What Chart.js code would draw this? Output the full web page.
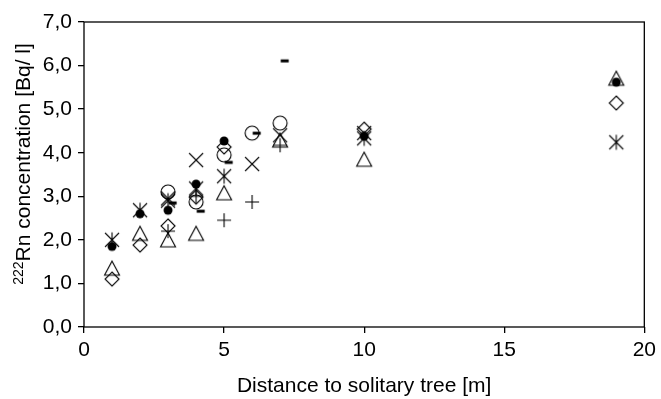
<!DOCTYPE html>
<html>
<head>
<meta charset="utf-8">
<script src="https://cdn.jsdelivr.net/npm/chart.js@4/dist/chart.umd.min.js"></script>
<style>
body { margin: 0; background: #fff; }
</style>
</head>
<body>
<canvas id="chart" width="661" height="399"></canvas>
<script>
// values, one pair of arrays per marker
var dotX = [1, 2, 3, 4, 5, 10, 19];
var dotY = [1.85, 2.6, 2.68, 3.28, 4.27, 4.38, 5.62];
var starX = [1, 2, 3, 4, 5, 10, 19];
var starY = [2.0, 2.68, 2.9, 3.18, 3.46, 4.33, 4.24];
var triX = [1, 2, 3, 4, 5, 7, 10, 19];
var triY = [1.35, 2.15, 2.0, 2.15, 3.08, 4.29, 3.85, 5.71];
var diaX = [1, 2, 3, 4, 5, 10, 19];
var diaY = [1.1, 1.88, 2.32, 2.98, 4.13, 4.54, 5.14];
var crossX = [3, 4, 6, 7, 10];
var crossY = [2.95, 3.83, 3.74, 4.4, 4.45];
var ringX = [3, 4, 5, 6, 7];
var ringY = [3.1, 2.87, 3.95, 4.45, 4.68];
var plusX = [3, 4, 5, 6, 7];
var plusY = [2.2, 3.0, 2.45, 2.87, 4.17];
var dashX = [3, 4, 5, 6, 7];
var dashY = [2.85, 2.66, 3.78, 4.45, 6.11];

var xTicks = [0, 5, 10, 15, 20];
var yTitleSup = "222";
var yTitle = "Rn concentration [Bq/ l]";
var xTitle = "Distance to solitary tree [m]";

var FONT = "'Liberation Sans', Arial, sans-serif";

function marker(kind) {
    var c = document.createElement("canvas");
    c.width = 20; c.height = 20;
    var g = c.getContext("2d");
    g.strokeStyle = "#000";
    g.fillStyle = "#000";
    g.lineWidth = 1.1;
    g.beginPath();
    if (kind == "dot") {
        g.arc(10, 10, 4.5, 0, Math.PI * 2);
        g.fill();
        return c;
    }
    if (kind == "dash") {
        g.fillRect(10.6, 8.6, 8, 3);
        return c;
    }
    if (kind == "ring") g.arc(10, 10, 7, 0, Math.PI * 2);
    if (kind == "tri") { g.moveTo(10, 3); g.lineTo(17.5, 17); g.lineTo(2.5, 17); g.closePath(); }
    if (kind == "dia") { g.moveTo(10, 3); g.lineTo(17, 10); g.lineTo(10, 17); g.lineTo(3, 10); g.closePath(); }
    if (kind == "cross" || kind == "star") {
        g.moveTo(3, 3); g.lineTo(17, 17);
        g.moveTo(17, 3); g.lineTo(3, 17);
    }
    if (kind == "star") { g.moveTo(10, 2.5); g.lineTo(10, 17.5); }
    if (kind == "plus") { g.moveTo(10, 3); g.lineTo(10, 17); g.moveTo(3, 10); g.lineTo(17, 10); }
    g.stroke();
    return c;
}

function pts(xs, ys) {
    var out = [];
    for (var i = 0; i < xs.length; i++) out.push({x: xs[i], y: ys[i]});
    return out;
}

function set(xs, ys, kind) {
    return {
        data: pts(xs, ys),
        pointStyle: marker(kind),
        pointRadius: 10,
        pointHoverRadius: 10,
        showLine: false,
        clip: false
    };
}

// box round the plot and the rotated y title with its superscript
var frame = {
    id: "frame",
    afterDraw: function(chart) {
        var a = chart.chartArea;
        var ctx = chart.ctx;
        ctx.save();
        ctx.strokeStyle = "#000";
        ctx.lineWidth = 1.3;
        ctx.strokeRect(a.left, a.top, a.right - a.left, a.bottom - a.top);

        ctx.translate(30, 164);
        ctx.rotate(-Math.PI / 2);
        ctx.fillStyle = "#000";
        ctx.textBaseline = "alphabetic";
        ctx.font = "14px " + FONT;
        var w1 = ctx.measureText(yTitleSup).width;
        ctx.font = "21px " + FONT;
        var w2 = ctx.measureText(yTitle).width;
        var x0 = -(w1 + w2) / 2;
        ctx.font = "14px " + FONT;
        ctx.fillText(yTitleSup, x0, -7);
        ctx.font = "21px " + FONT;
        ctx.fillText(yTitle, x0 + w1, 0);
        ctx.restore();
    }
};

new Chart(document.getElementById("chart"), {
    type: "scatter",
    data: {
        datasets: [
            set(triX, triY, "tri"),
            set(diaX, diaY, "dia"),
            set(ringX, ringY, "ring"),
            set(plusX, plusY, "plus"),
            set(crossX, crossY, "cross"),
            set(starX, starY, "star"),
            set(dashX, dashY, "dash"),
            set(dotX, dotY, "dot")
        ]
    },
    options: {
        responsive: false,
        animation: false,
        events: [],
        layout: { padding: { top: 22, right: 13, left: 0, bottom: 0 } },
        plugins: { legend: { display: false }, tooltip: { enabled: false } },
        scales: {
            x: {
                type: "linear",
                min: 0, max: 20,
                afterFit: function(s) { s.height = 72; },
                afterBuildTicks: function(s) {
                    s.ticks = xTicks.map(function(v) { return {value: v}; });
                },
                border: { display: false },
                grid: { drawOnChartArea: false, drawTicks: true, tickLength: 6, color: "#000", lineWidth: 1.3 },
                ticks: { color: "#000", font: { family: FONT, size: 21 }, padding: 5, maxRotation: 0 },
                title: { display: true, text: xTitle, color: "#000", font: { family: FONT, size: 21 }, padding: { top: 0, bottom: 0 } }
            },
            y: {
                type: "linear",
                min: 0, max: 7,
                afterFit: function(s) { s.width = 84; },
                border: { display: false },
                grid: { drawOnChartArea: false, drawTicks: true, tickLength: 6, color: "#000", lineWidth: 1.3 },
                ticks: {
                    stepSize: 1,
                    color: "#000",
                    font: { family: FONT, size: 21 },
                    padding: 6,
                    callback: function(v) { return v.toFixed(1).replace(".", ","); }
                }
            }
        }
    },
    plugins: [frame]
});
</script>
</body>
</html>
